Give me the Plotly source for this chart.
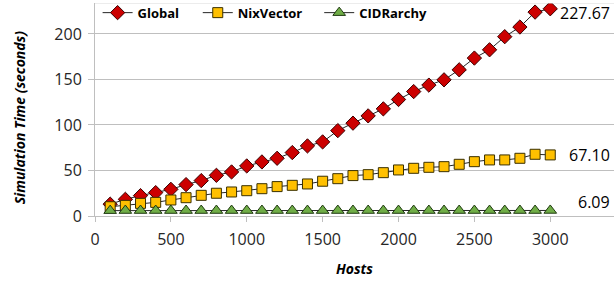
import plotly.graph_objects as go

hosts = list(range(100, 3001, 100))
global_t = [13, 18.3, 22.4, 25.7, 29.3, 34.5, 38.9, 44.7, 48.4, 55,
            59.4, 63.4, 69.7, 77, 81.4, 93.8, 102, 110, 117.7, 128,
            136.7, 143.8, 149.6, 160.6, 173.5, 182.6, 197, 207.6, 224, 227.67]
nix_t = [10.2, 11.7, 13.9, 15, 17.6, 20.1, 22.7, 25, 26.4, 27.8,
         30, 32.3, 33.7, 35.2, 38.2, 41, 44.4, 45.4, 47.6, 50.6,
         52.4, 53.5, 54.2, 56.8, 59.7, 61.6, 61.6, 63.4, 67.8, 67.10]
cid_t = [5.9, 6.0, 6.0, 6.0, 6.0, 6.0, 6.0, 6.0, 6.0, 6.0,
         6.0, 6.0, 6.0, 6.0, 6.0, 6.0, 6.0, 6.0, 6.0, 6.0,
         6.0, 6.0, 6.0, 6.0, 6.0, 6.0, 6.0, 6.0, 6.0, 6.09]
x_ticks = [0, 500, 1000, 1500, 2000, 2500, 3000]
y_ticks = [0, 50, 100, 150, 200]
end_labels = ["227.67", "67.10", "6.09"]

fig = go.Figure()
fig.add_trace(go.Scatter(x=hosts, y=global_t, name="Global", mode="lines+markers",
                         legend="legend",
                         line=dict(color="#262626", width=1),
                         marker=dict(symbol="diamond", size=11, color="#CC0000",
                                     line=dict(color="#3a0000", width=1))))
fig.add_trace(go.Scatter(x=hosts, y=nix_t, name="NixVector", mode="lines+markers",
                         legend="legend2",
                         line=dict(color="#262626", width=1),
                         marker=dict(symbol="square", size=10, color="#FFC000",
                                     line=dict(color="#3a3000", width=1))))
fig.add_trace(go.Scatter(x=hosts, y=cid_t, name="CIDRarchy", mode="lines+markers",
                         legend="legend3",
                         line=dict(color="#262626", width=1),
                         marker=dict(symbol="triangle-up", size=11, color="#70AD47",
                                     line=dict(color="#1f3a10", width=1))))

shifts = [-4, 0, 8]
for vals, lab, ys in zip([global_t, nix_t, cid_t], end_labels, shifts):
    fig.add_annotation(x=1, xref="paper", y=vals[-1], yref="y", text=lab,
                       xanchor="right", yanchor="middle", showarrow=False,
                       xshift=-2, yshift=ys,
                       font=dict(family="Open Sans", size=16, color="#000000"))

# y-axis title as rotated annotation (slightly below centre, as in the reference)
fig.add_annotation(x=-0.145, xref="paper", y=0.462, yref="paper",
                   text="<b><i>Simulation Time (seconds)</i></b>", textangle=-90,
                   xanchor="center", yanchor="middle", showarrow=False,
                   font=dict(family="Open Sans", size=14, color="#000000"))

fig.add_shape(type="line", xref="paper", yref="y", x0=0, x1=1, y0=234, y1=234,
              line=dict(color="#D9D9D9", width=1))

leg_font = dict(family="Open Sans", size=13, color="#000000", weight="bold")
def leg(xpos):
    return dict(orientation="h", x=xpos, y=1.025, xanchor="left", yanchor="top",
                bgcolor="rgba(255,255,255,0)", font=leg_font, itemwidth=30)

fig.update_layout(
    width=614, height=282,
    margin=dict(l=95, r=0, t=3, b=66, autoexpand=False),
    paper_bgcolor="white", plot_bgcolor="white",
    font=dict(family="Open Sans", size=13, color="#262626"),
    showlegend=True,
    legend=leg(0.005), legend2=leg(0.198), legend3=leg(0.432),
    xaxis=dict(range=[0, 3420], tickvals=x_ticks, showgrid=False,
               showline=True, linecolor="#BFBFBF", linewidth=1,
               ticks="outside", ticklen=5, tickcolor="#BFBFBF",
               ticklabelstandoff=4,
               tickfont=dict(size=16, color="#262626"), zeroline=False,
               automargin=False,
               title=dict(text="<b><i>Hosts</i></b>", font=dict(size=14, color="#000000"),
                          standoff=14)),
    yaxis=dict(range=[0, 234], tickvals=y_ticks, showgrid=True, gridcolor="#BFBFBF",
               showline=True, linecolor="#BFBFBF", linewidth=1,
               ticks="outside", ticklen=6, tickcolor="#BFBFBF",
               ticklabelstandoff=3,
               tickfont=dict(size=16, color="#262626"), zeroline=False,
               automargin=False),
)

fig.write_html("out.html", config={"displayModeBar": False},
               post_script="document.body.style.margin='0px';")
